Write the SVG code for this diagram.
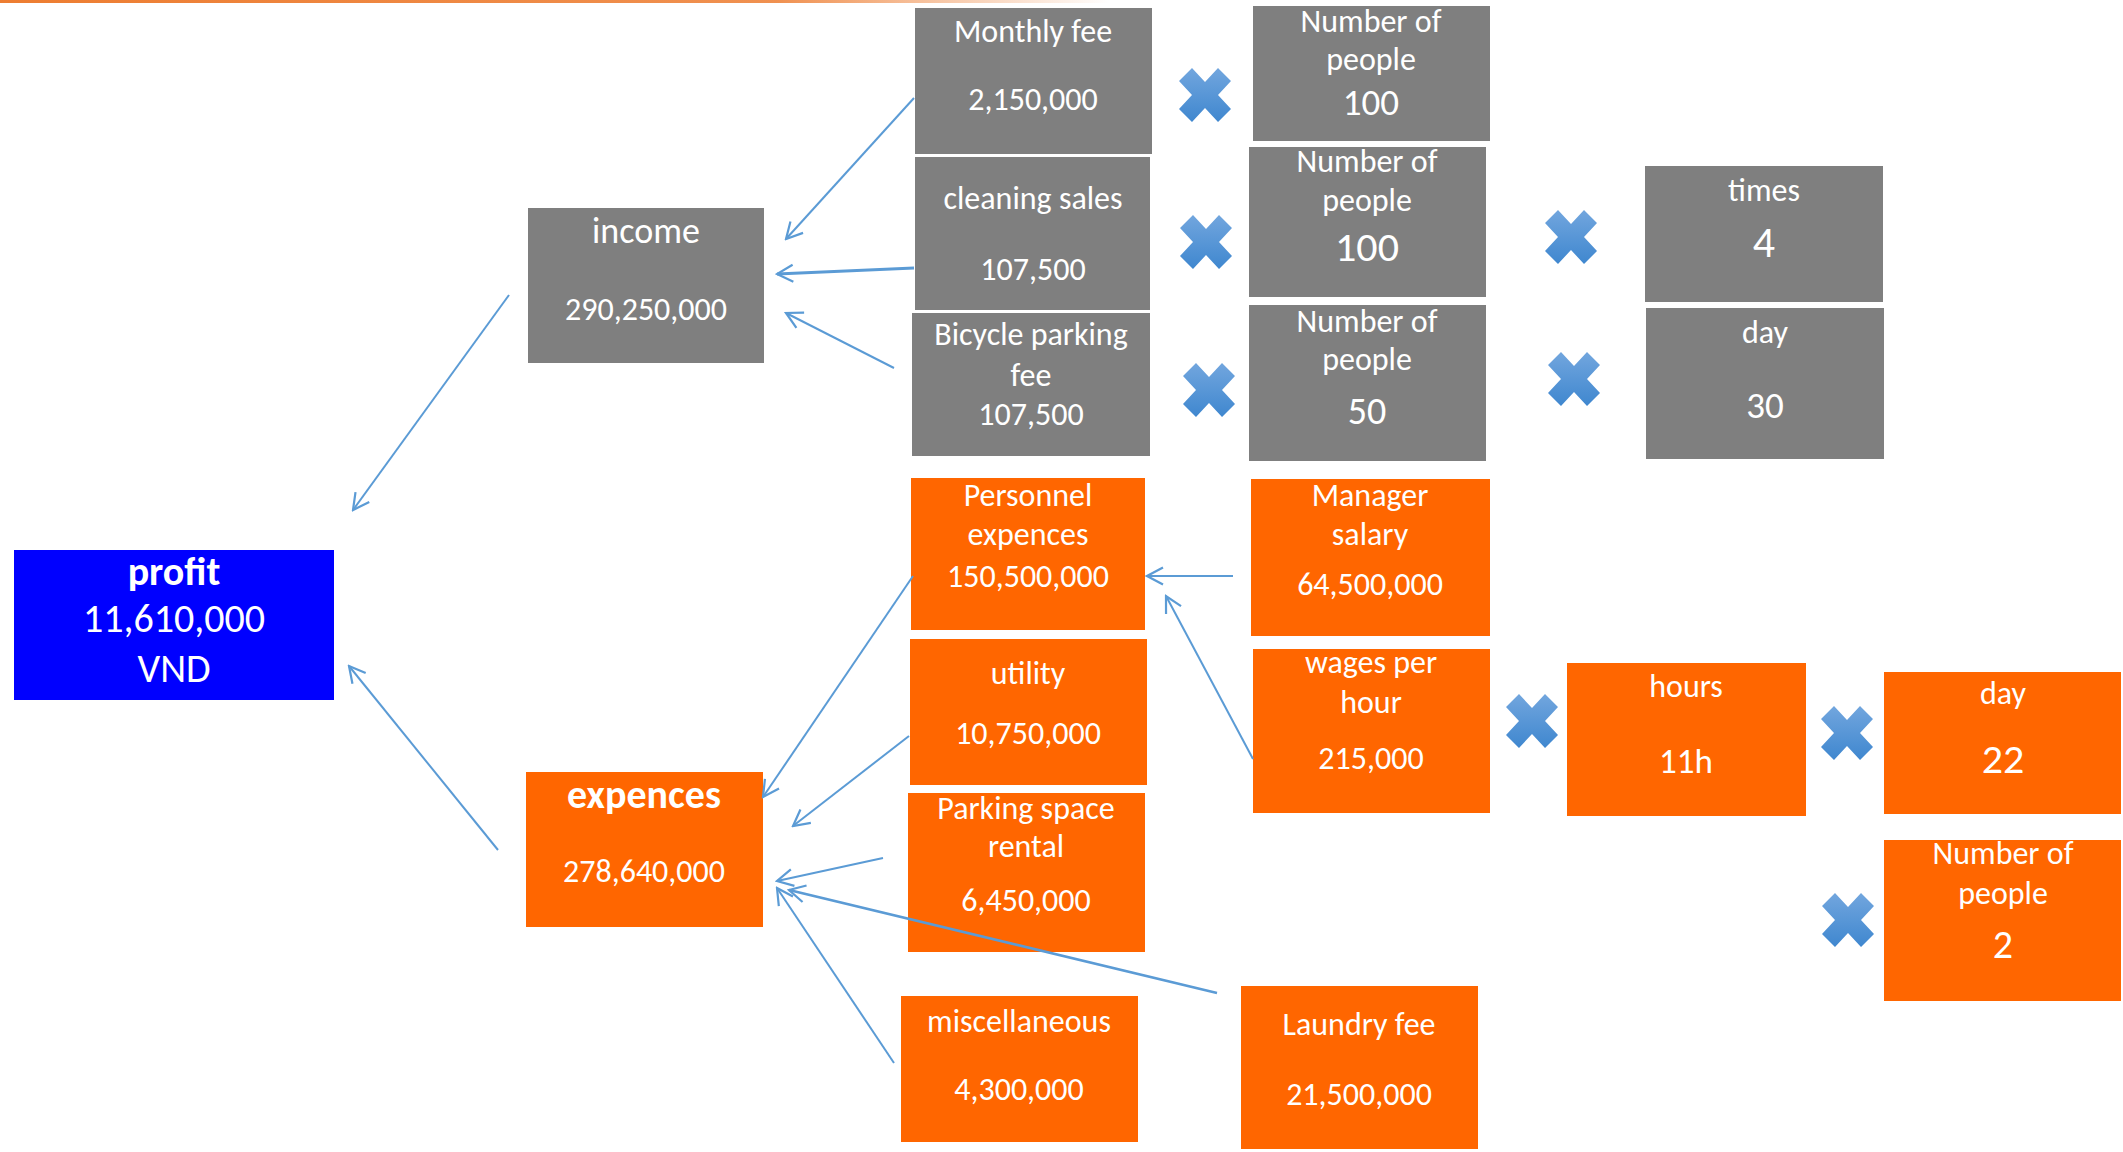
<svg xmlns="http://www.w3.org/2000/svg" width="2123" height="1152" viewBox="0 0 2123 1152">
  <defs>
    <linearGradient id="topline" x1="0" y1="0" x2="1" y2="0">
      <stop offset="0" stop-color="#ed7d31" stop-opacity="1"/>
      <stop offset="0.7" stop-color="#ed7d31" stop-opacity="0.85"/>
      <stop offset="1" stop-color="#ed7d31" stop-opacity="0"/>
    </linearGradient>
    <linearGradient id="xgrad" x1="0" y1="0" x2="0" y2="1">
      <stop offset="0" stop-color="#72a6de"/>
      <stop offset="1" stop-color="#3f87cf"/>
    </linearGradient>
    <marker id="arr" viewBox="0 0 20 20" refX="18" refY="10" markerWidth="20" markerHeight="20" markerUnits="userSpaceOnUse" orient="auto">
      <path d="M2,1.5 L18,10 L2,18.5" fill="none" stroke="#5b9bd5" stroke-width="2.2"/>
    </marker>
    <path id="mul" d="M0,-13 L13,-27 L26,-14 L13,0 L26,14 L13,27 L0,13 L-13,27 L-26,14 L-13,0 L-26,-14 L-13,-27 Z"/>
  </defs>
  <style>
    .g { fill: #7f7f7f; }
    .o { fill: #ff6600; }
    .b { fill: #0000ff; }
    text { font-family: Carlito, Calibri, Lato, "Liberation Sans", sans-serif; fill: #ffffff; text-anchor: middle; font-size: 32px; }
    .big { font-size: 40px; }
    .bold { font-weight: bold; }
    .t36 { font-size: 36px; }
    .conn line { stroke: #5b9bd5; stroke-width: 2; marker-end: url(#arr); }
    .x { fill: url(#xgrad); }
  </style>

  <rect x="0" y="0" width="1110" height="3" fill="url(#topline)"/>

  <g id="n-monthly-fee"><rect class="g" x="915" y="8" width="237" height="146"/><text x="1033" y="42">Monthly fee</text><text x="1033" y="110">2,150,000</text></g>
  <g id="n-people-100a"><rect class="g" x="1253" y="6" width="237" height="135"/><text x="1371" y="32">Number of</text><text x="1371" y="70">people</text><text x="1371" y="115" style="font-size:37px">100</text></g>
  <g id="n-cleaning"><rect class="g" x="915" y="157" width="235" height="153"/><text x="1033" y="209">cleaning sales</text><text x="1033" y="280">107,500</text></g>
  <g id="n-people-100b"><rect class="g" x="1249" y="147" width="237" height="150"/><text x="1367" y="172">Number of</text><text x="1367" y="211">people</text><text x="1367" y="261" style="font-size:42px">100</text></g>
  <g id="n-times"><rect class="g" x="1645" y="166" width="238" height="136"/><text x="1764" y="201">times</text><text x="1764" y="257" style="font-size:44px">4</text></g>
  <g id="n-bicycle"><rect class="g" x="912" y="313" width="238" height="143"/><text x="1031" y="345">Bicycle parking</text><text x="1031" y="386">fee</text><text x="1031" y="425">107,500</text></g>
  <g id="n-people-50"><rect class="g" x="1249" y="305" width="237" height="156"/><text x="1367" y="332">Number of</text><text x="1367" y="370">people</text><text x="1367" y="424" style="font-size:38px">50</text></g>
  <g id="n-day-gray"><rect class="g" x="1646" y="308" width="238" height="151"/><text x="1765" y="343">day</text><text x="1765" y="418" style="font-size:37px">30</text></g>
  <g id="n-income"><rect class="g" x="528" y="208" width="236" height="155"/><text class="t36" x="646" y="243">income</text><text x="646" y="320">290,250,000</text></g>

  <g id="n-profit"><rect class="b" x="14" y="550" width="320" height="150"/><text class="big bold" x="174" y="585">profit</text><text class="big" x="174" y="632">11,610,000</text><text class="big" x="174" y="682">VND</text></g>
  <g id="n-expences"><rect class="o" x="526" y="772" width="237" height="155"/><text class="big bold" x="644" y="808">expences</text><text x="644" y="882">278,640,000</text></g>

  <g id="n-personnel"><rect class="o" x="911" y="478" width="234" height="152"/><text x="1028" y="506">Personnel</text><text x="1028" y="545">expences</text><text x="1028" y="587">150,500,000</text></g>
  <g id="n-utility"><rect class="o" x="910" y="639" width="237" height="146"/><text x="1028" y="684">utility</text><text x="1028" y="744">10,750,000</text></g>
  <g id="n-parking"><rect class="o" x="908" y="793" width="237" height="159"/><text x="1026" y="819">Parking space</text><text x="1026" y="857">rental</text><text x="1026" y="911">6,450,000</text></g>
  <g id="n-misc"><rect class="o" x="901" y="996" width="237" height="146"/><text x="1019" y="1032">miscellaneous</text><text x="1019" y="1100">4,300,000</text></g>
  <g id="n-manager"><rect class="o" x="1251" y="479" width="239" height="157"/><text x="1370" y="506">Manager</text><text x="1370" y="545">salary</text><text x="1370" y="595">64,500,000</text></g>
  <g id="n-wages"><rect class="o" x="1253" y="649" width="237" height="164"/><text x="1371" y="673">wages per</text><text x="1371" y="713">hour</text><text x="1371" y="769">215,000</text></g>
  <g id="n-hours"><rect class="o" x="1567" y="663" width="239" height="153"/><text x="1686" y="697">hours</text><text x="1686" y="773" style="font-size:35px">11h</text></g>
  <g id="n-day-orange"><rect class="o" x="1884" y="672" width="237" height="142"/><text x="2003" y="704">day</text><text x="2003" y="773" style="font-size:42px">22</text></g>
  <g id="n-people-2"><rect class="o" x="1884" y="840" width="237" height="161"/><text x="2003" y="864">Number of</text><text x="2003" y="904">people</text><text x="2003" y="958" style="font-size:40px">2</text></g>
  <g id="n-laundry"><rect class="o" x="1241" y="986" width="237" height="163"/><text x="1359" y="1035">Laundry fee</text><text x="1359" y="1105">21,500,000</text></g>

  <g id="multipliers">
    <use href="#mul" class="x" x="1205" y="95"/>
    <use href="#mul" class="x" x="1206" y="242"/>
    <use href="#mul" class="x" x="1209" y="390"/>
    <use href="#mul" class="x" x="1571" y="237"/>
    <use href="#mul" class="x" x="1574" y="379"/>
    <use href="#mul" class="x" x="1532" y="721"/>
    <use href="#mul" class="x" x="1847" y="733"/>
    <use href="#mul" class="x" x="1848" y="920"/>
  </g>

  <g id="connectors" class="conn">
    <line x1="914" y1="98" x2="786" y2="239"/>
    <line x1="914" y1="268" x2="777" y2="274" style="stroke-width:3"/>
    <line x1="894" y1="368" x2="786" y2="313"/>
    <line x1="509" y1="295" x2="353" y2="510"/>
    <line x1="498" y1="850" x2="349" y2="666"/>
    <line x1="913" y1="576" x2="763" y2="797"/>
    <line x1="909" y1="736" x2="793" y2="826"/>
    <line x1="883" y1="858" x2="777" y2="881"/>
    <line x1="1217" y1="993" x2="789" y2="890" style="stroke-width:2.5"/>
    <line x1="894" y1="1063" x2="777" y2="888"/>
    <line x1="1233" y1="576" x2="1147" y2="576"/>
    <line x1="1253" y1="759" x2="1166" y2="596"/>
  </g>
</svg>
